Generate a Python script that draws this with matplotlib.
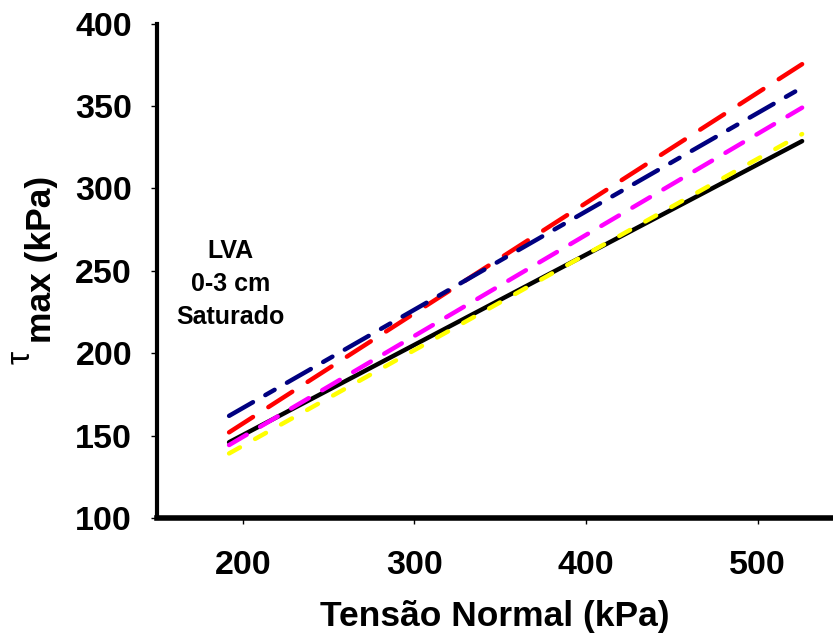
import numpy as np
import matplotlib
matplotlib.use('Agg')
import matplotlib.pyplot as plt

# --- data: fitted envelopes, endpoints ---
x_range = [192, 526]
black_y = [146.0, 328.7]
red_y = [152.0, 375.4]
navy_y = [162.0, 361.2]
magenta_y = [144.3, 349.0]
yellow_y = [139.2, 333.0]

x_ticks = [200, 300, 400, 500]
y_ticks = [100, 150, 200, 250, 300, 350, 400]

plt.rcParams['font.family'] = ['Liberation Sans', 'DejaVu Sans']

fig = plt.figure(figsize=(8.33, 6.38), dpi=100)
ax = fig.add_axes([0.1885, 0.188, 1 - 0.1885, 0.963 - 0.188])

lw = 3.2
ax.plot(x_range, black_y, color='black', lw=lw, solid_capstyle='round')
ax.plot(x_range, red_y, color='#ff0000', lw=lw, dashes=(6.4, 4.1), dash_capstyle='round')
ax.plot(x_range, navy_y, color='#000080', lw=lw, dashes=(6.2, 3.2, 2.4, 3.2), dash_capstyle='round')
ax.plot(x_range, magenta_y, color='#ff00ff', lw=lw, dashes=(4.6, 3.5), dash_capstyle='round')
ax.plot(x_range, yellow_y, color='#ffff00', lw=lw, dashes=(2.8, 3.9), dash_capstyle='round')

ax.set_xlim(150, 544)
ax.set_ylim(100, 400)
ax.set_xticks(x_ticks)
ax.set_yticks(y_ticks)

for side in ['top', 'right']:
    ax.spines[side].set_visible(False)
ax.spines['left'].set_linewidth(3.0)
ax.spines['bottom'].set_linewidth(4.0)

ax.tick_params(axis='both', direction='out', width=1, length=4, labelsize=24.5)
ax.tick_params(axis='y', pad=14)
ax.tick_params(axis='x', pad=19)
for lab in ax.get_xticklabels() + ax.get_yticklabels():
    lab.set_fontweight('bold')

ax.set_xlabel('Tensão Normal (kPa)', fontsize=25.5, fontweight='bold', labelpad=14)

# y label: tau with "max (kPa)" set lower, as in the original
fig.text(0.025, 0.44, 'τ', rotation=90, fontsize=24, ha='center', va='center')
fig.text(0.050, 0.594, 'max (kPa)', rotation=90, fontsize=25.5, fontweight='bold',
         ha='center', va='center')

ax.text(193, 242, 'LVA\n0-3 cm\nSaturado', fontsize=18, fontweight='bold',
        ha='center', va='center', linespacing=1.45)

fig.savefig('out.png', dpi=100)
